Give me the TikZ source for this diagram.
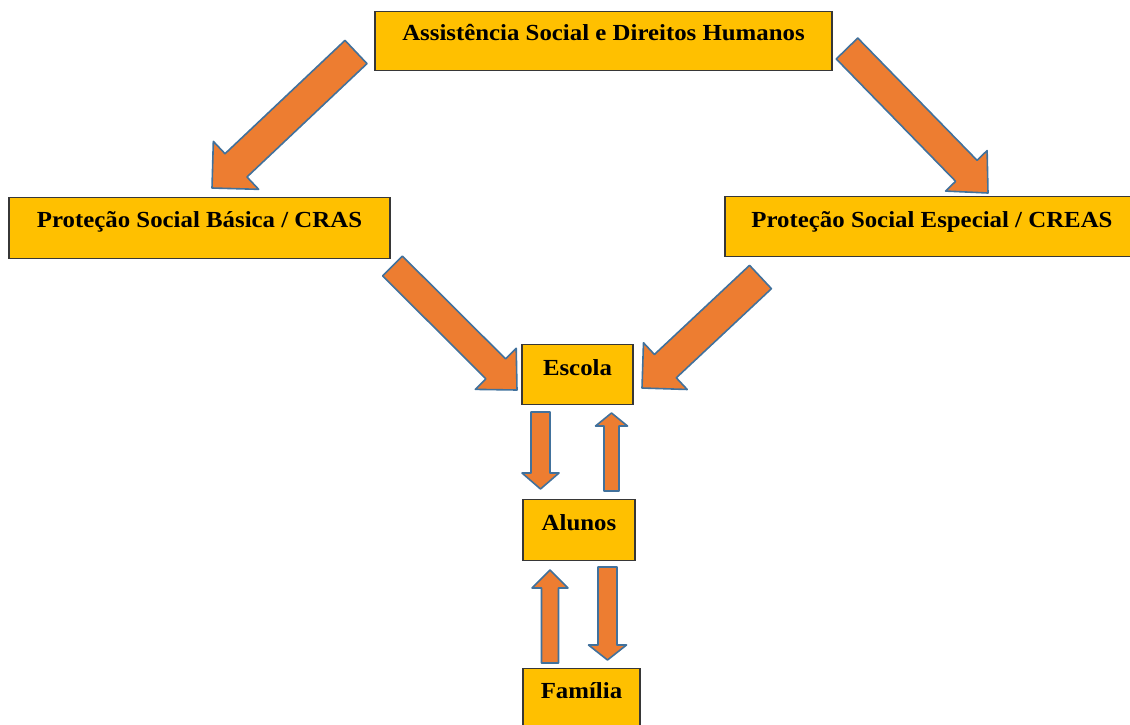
\documentclass[tikz,border=0pt]{standalone}
\usepackage{fontspec}
\setmainfont{Liberation Serif}[FakeStretch=1.08]
\usetikzlibrary{calc}
\definecolor{SASgold}{RGB}{255,192,0}
\definecolor{SASorange}{RGB}{237,125,49}
\definecolor{SASblue}{RGB}{65,113,156}
\definecolor{SASgrey}{RGB}{55,55,55}
\tikzstyle{SASbox}=[fill=SASgold, draw=SASgrey, line width=1.3pt, inner sep=0pt, anchor=north,
  font=\fontsize{23}{27}\selectfont\bfseries]
\tikzstyle{SASarrow}=[fill=SASorange, draw=SASblue, line width=1.6pt, line join=round]
% block arrow: from, to, shaft half width, head half width, head length
\newcommand{\fatarrow}[5]{%
  \coordinate (hb) at ($(#2)!#5!(#1)$);
  \draw[SASarrow] ($(#1)!#3!90:(#2)$) -- ($(hb)!#3!-90:(#1)$) -- ($(hb)!#4!-90:(#1)$)
    -- (#2) -- ($(hb)!#4!90:(#1)$) -- ($(hb)!#3!90:(#1)$) -- ($(#1)!#3!-90:(#2)$) -- cycle;
}

\begin{document}
\begin{tikzpicture}[x=1pt, y=-1pt]
                \useasboundingbox (0,0) rectangle (1130,724);
                % boxes
                \node [SASbox, minimum width=457pt, text height=29pt, text depth=30pt] (assist) at (603.5,11) {Assistência Social e Direitos Humanos};
                \node [SASbox, minimum width=381pt, text height=30pt, text depth=31pt] (basica) at (199.5,197) {Proteção Social Básica / CRAS};
                \node [SASbox, minimum width=414pt, text height=31pt, text depth=29pt] (especial) at (932,196) {Proteção Social Especial / CREAS};
                \node [SASbox, minimum width=111pt, text height=31pt, text depth=29pt] (escola) at (577.5,344) {Escola};
                \node [SASbox, minimum width=112pt, text height=31pt, text depth=30pt] (alunos) at (579,499) {Alunos};
                \node [SASbox, minimum width=117pt, text height=30pt, text depth=40pt] (familia) at (581.5,668) {Família};
                % arrow ends
                \coordinate (a1) at (356,52);    \coordinate (b1) at (212,188);
                \coordinate (a2) at (847,48.5);  \coordinate (b2) at (988,193);
                \coordinate (a3) at (392.5,266); \coordinate (b3) at (517,390);
                \coordinate (a4) at (760.5,277); \coordinate (b4) at (642,388);
                \coordinate (a5) at (540.5,412); \coordinate (b5) at (540.5,489);
                \coordinate (a6) at (611.5,491); \coordinate (b6) at (611.5,413);
                \coordinate (a7) at (550,663);   \coordinate (b7) at (550,570);
                \coordinate (a8) at (607.5,567); \coordinate (b8) at (607.5,660);
                % arrows
                \fatarrow{a1}{b1}{16pt}{33pt}{33pt}
                \fatarrow{a2}{b2}{15pt}{29pt}{31pt}
                \fatarrow{a3}{b3}{14pt}{29pt}{30pt}
                \fatarrow{a4}{b4}{16pt}{32pt}{32pt}
                \fatarrow{a5}{b5}{9.5pt}{18.5pt}{16pt}
                \fatarrow{a6}{b6}{7.5pt}{16pt}{13pt}
                \fatarrow{a7}{b7}{8.5pt}{18pt}{18pt}
                \fatarrow{a8}{b8}{9.5pt}{19pt}{15pt}
            \end{tikzpicture}
\end{document}
